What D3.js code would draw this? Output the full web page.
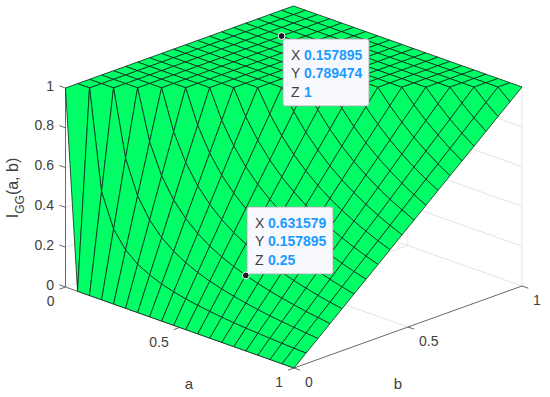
<!DOCTYPE html>
<html>
<head>
<meta charset="utf-8">
<script src="https://cdn.jsdelivr.net/npm/d3@7"></script>
<style>
html, body { margin:0; padding:0; background:#fff; }
text { font-family:"Liberation Sans", Arial, sans-serif; }
</style>
</head>
<body>
<div id="canvas"></div>
<script>
var canvasWidth = 550,
    canvasHeight = 397;

// grid positions on both axes, k/19
var aValues = [0,0.052632,0.105263,0.157895,0.210526,0.263158,0.315789,0.368421,0.421053,0.473684,0.526316,0.578947,0.631579,0.684211,0.736842,0.789474,0.842105,0.894737,0.947368,1];
var bValues = aValues;

// one row per a, one column per b
var zValues = [
  [1,1,1,1,1,1,1,1,1,1,1,1,1,1,1,1,1,1,1,1],
  [0,1,1,1,1,1,1,1,1,1,1,1,1,1,1,1,1,1,1,1],
  [0,.5,1,1,1,1,1,1,1,1,1,1,1,1,1,1,1,1,1,1],
  [0,.333,.667,1,1,1,1,1,1,1,1,1,1,1,1,1,1,1,1,1],
  [0,.25,.5,.75,1,1,1,1,1,1,1,1,1,1,1,1,1,1,1,1],
  [0,.2,.4,.6,.8,1,1,1,1,1,1,1,1,1,1,1,1,1,1,1],
  [0,.167,.333,.5,.667,.833,1,1,1,1,1,1,1,1,1,1,1,1,1,1],
  [0,.143,.286,.429,.571,.714,.857,1,1,1,1,1,1,1,1,1,1,1,1,1],
  [0,.125,.25,.375,.5,.625,.75,.875,1,1,1,1,1,1,1,1,1,1,1,1],
  [0,.111,.222,.333,.444,.556,.667,.778,.889,1,1,1,1,1,1,1,1,1,1,1],
  [0,.1,.2,.3,.4,.5,.6,.7,.8,.9,1,1,1,1,1,1,1,1,1,1],
  [0,.091,.182,.273,.364,.455,.545,.636,.727,.818,.909,1,1,1,1,1,1,1,1,1],
  [0,.083,.167,.25,.333,.417,.5,.583,.667,.75,.833,.917,1,1,1,1,1,1,1,1],
  [0,.077,.154,.231,.308,.385,.462,.538,.615,.692,.769,.846,.923,1,1,1,1,1,1,1],
  [0,.071,.143,.214,.286,.357,.429,.5,.571,.643,.714,.786,.857,.929,1,1,1,1,1,1],
  [0,.067,.133,.2,.267,.333,.4,.467,.533,.6,.667,.733,.8,.867,.933,1,1,1,1,1],
  [0,.063,.125,.188,.25,.313,.375,.438,.5,.563,.625,.688,.75,.813,.875,.938,1,1,1,1],
  [0,.059,.118,.176,.235,.294,.353,.412,.471,.529,.588,.647,.706,.765,.824,.882,.941,1,1,1],
  [0,.056,.111,.167,.222,.278,.333,.389,.444,.5,.556,.611,.667,.722,.778,.833,.889,.944,1,1],
  [0,.053,.105,.158,.211,.263,.316,.368,.421,.474,.526,.579,.632,.684,.737,.789,.842,.895,.947,1]
];

var zTicks = [0,0.2,0.4,0.6,0.8,1];
var abTicks = [0,0.5,1];

// datatips: a, b, z and the text shown
var tipA = [0.157895, 0.631579];
var tipB = [0.789474, 0.157895];
var tipZ = [1, 0.25];
var tipLabels = [['0.157895','0.789474','1'], ['0.631579','0.157895','0.25']];

// orthographic view: each data axis gets its own pair of pixel scales
var origin = {x:65.5, y:287};
var aX = d3.scaleLinear().domain([0,1]).range([0,228.5]),
    aY = d3.scaleLinear().domain([0,1]).range([0,81]),
    bX = d3.scaleLinear().domain([0,1]).range([0,228]),
    bY = d3.scaleLinear().domain([0,1]).range([0,-82]),
    zY = d3.scaleLinear().domain([0,1]).range([0,-199]);

function px(a,b) { return origin.x + aX(a) + bX(b); }
function py(a,b,z) { return origin.y + aY(a) + bY(b) + zY(z); }
function pt(a,b,z) { return [px(a,b), py(a,b,z)]; }

var lineGen = d3.line();

var svg = d3.select('#canvas')
    .append('svg')
    .attr('width', canvasWidth)
    .attr('height', canvasHeight)
    .style('display', 'block');

// back wall and floor grid
var gridColor = '#e3e3e3';
var gridLines = [];
zTicks.forEach(function(z){
    gridLines.push([pt(0,0,z), pt(0,1,z), pt(1,1,z)]);
});
[0.5,1].forEach(function(v){
    gridLines.push([pt(v,1,0), pt(v,1,1)]);
    gridLines.push([pt(0,v,0), pt(0,v,1)]);
});
[0.5].forEach(function(v){
    gridLines.push([pt(v,0,0), pt(v,1,0)]);
    gridLines.push([pt(0,v,0), pt(1,v,0)]);
});

svg.append('g').selectAll('path')
    .data(gridLines)
    .enter()
    .append('path')
    .attr('d', lineGen)
    .style('fill', 'none')
    .style('stroke', gridColor)
    .style('stroke-width', 1);

// axes
var axisColor = '#5a5a5a';
var axes = svg.append('g')
    .style('fill', 'none')
    .style('stroke', axisColor)
    .style('stroke-width', 0.9);

axes.append('path').attr('d', lineGen([pt(0,0,0), pt(0,0,1)]));
axes.append('path').attr('d', lineGen([pt(0,0,0), pt(1,0,0)]));
axes.append('path').attr('d', lineGen([pt(1,0,0), pt(1,1,0)]));

var tickLen = 0.027;
zTicks.forEach(function(z){
    axes.append('path').attr('d', lineGen([pt(0,0,z), pt(-tickLen,0,z)]));
});
abTicks.forEach(function(v){
    axes.append('path').attr('d', lineGen([pt(v,0,0), pt(v,-tickLen,0)]));
    axes.append('path').attr('d', lineGen([pt(1,v,0), pt(1+tickLen,v,0)]));
});

// surface, far cells first
var cells = [];
d3.range(aValues.length-1).forEach(function(i){
    d3.range(bValues.length-1).forEach(function(j){
        cells.push({i:i, j:j});
    });
});
cells.sort(function(p,q){ return (p.i-p.j) - (q.i-q.j); });

svg.append('g').selectAll('path')
    .data(cells)
    .enter()
    .append('path')
    .attr('d', function(d){
        var i = d.i, j = d.j;
        return lineGen([
            pt(aValues[i],bValues[j],zValues[i][j]),
            pt(aValues[i+1],bValues[j],zValues[i+1][j]),
            pt(aValues[i+1],bValues[j+1],zValues[i+1][j+1]),
            pt(aValues[i],bValues[j+1],zValues[i][j+1])
        ]) + 'Z';
    })
    .style('fill', '#00ff66')
    .style('stroke', '#0a2a18')
    .style('stroke-width', 0.8)
    .style('stroke-linejoin', 'round');

// tick labels
var labelColor = '#404040';
function label(x,y,s,anchor,size) {
    return svg.append('text')
        .attr('x', x)
        .attr('y', y)
        .attr('text-anchor', anchor || 'middle')
        .style('font-size', (size || 14) + 'px')
        .style('fill', labelColor)
        .text(s);
}

zTicks.forEach(function(z){
    label(px(0,0)-11.5, py(0,0,z)+2.5, String(z), 'end');
});
abTicks.forEach(function(v){
    label(px(v,0)-11, py(v,0,0)+19, String(v), 'end');
    label(px(1,v)+11, py(1,v,0)+19, String(v), 'start');
});

label(189, 389, 'a', 'middle', 15);
label(398, 389, 'b', 'middle', 15);

var zLabel = svg.append('text')
    .attr('transform', 'translate(18,188) rotate(-90)')
    .attr('text-anchor', 'middle')
    .style('font-size', '16px')
    .style('fill', labelColor);
zLabel.append('tspan').text('I');
zLabel.append('tspan').attr('dy', 6).style('font-size', '12px').text('GG');
zLabel.append('tspan').attr('dy', -6).text('(a, b)');

// datatips
var tipW = 86, tipH = 67;
var tipBox = [[283,39],[247,207]];
var tipNames = ['X','Y','Z'];
tipA.forEach(function(a,k){
    var p = pt(a,tipB[k],tipZ[k]);
    var g = svg.append('g');
    g.append('rect')
        .attr('x', tipBox[k][0])
        .attr('y', tipBox[k][1])
        .attr('width', tipW)
        .attr('height', tipH)
        .attr('rx', 2)
        .style('fill', '#f8f8ff')
        .style('stroke', '#a6a6a6')
        .style('stroke-width', 0.8);
    tipNames.forEach(function(n,m){
        var y = tipBox[k][1] + 21 + m*18.4;
        g.append('text')
            .attr('x', tipBox[k][0]+8)
            .attr('y', y)
            .style('font-size', '14px')
            .style('fill', labelColor)
            .text(n);
        g.append('text')
            .attr('x', tipBox[k][0]+21)
            .attr('y', y)
            .style('font-size', '14px')
            .style('font-weight', 'bold')
            .style('fill', '#1c9bff')
            .text(tipLabels[k][m]);
    });
    g.append('circle')
        .attr('cx', p[0])
        .attr('cy', p[1])
        .attr('r', 3.4)
        .style('fill', '#1a1a1a')
        .style('stroke', '#fff')
        .style('stroke-width', 1);
});
</script>
</body>
</html>
